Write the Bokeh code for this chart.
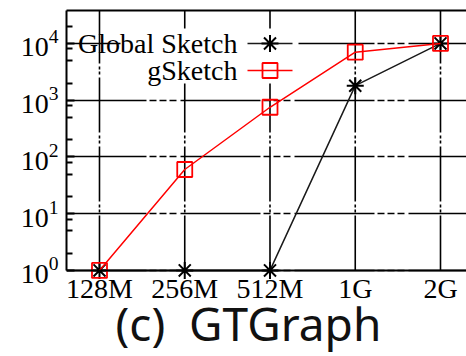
import math
from bokeh.plotting import figure
from bokeh.models import (Range1d, FixedTicker, LogTickFormatter, LinearAxis,
                          Label, BoxAnnotation, Span, Title)
from bokeh.embed import file_html
from bokeh.resources import INLINE

# sketch memory budget (x axis categories)
sizes = ["128M", "256M", "512M", "1G", "2G"]
# measured values per memory budget, log scale
global_sketch = [1, 1, 1, 1800, 10000]
gsketch = [1, 60, 750, 7000, 10000]

# y axis decades and in-between minor ticks
y_major = [1, 10, 100, 1000, 10000]
y_minor = [2, 5, 8, 20, 50, 80, 200, 500, 800, 2000, 5000, 8000, 20000]

series_names = ["Global Sketch", "gSketch"]
caption = "(c)\u00a0\u00a0GTGraph"

xs = list(range(len(sizes)))

# plot frame geometry (canvas pixels) and data ranges
W, H = 466, 356
F_LEFT, F_TOP, F_RIGHT, F_BOTTOM = 66, 10, 466, 279
LOG_TOP, LOG_BOTTOM = 4.58, -0.16
X_START, X_END = -0.387, 4.305
Y_TOP, Y_BOTTOM = 10 ** LOG_TOP, 10 ** LOG_BOTTOM


def data_x(px):
    return X_START + (px - F_LEFT) / (F_RIGHT - F_LEFT) * (X_END - X_START)


def data_y(py):
    frac = (py - F_TOP) / (F_BOTTOM - F_TOP)
    return 10 ** (LOG_TOP - frac * (LOG_TOP - LOG_BOTTOM))


SERIF = "Liberation Serif"
RED = "#ff0000"
DARK = "#1a1a1a"

p = figure(width=W, height=H, output_backend="svg", toolbar_location=None,
           y_axis_type="log", x_axis_location=None,
           x_range=Range1d(X_START, X_END), y_range=Range1d(Y_BOTTOM, Y_TOP),
           min_border_left=F_LEFT, min_border_right=0, min_border_top=F_TOP,
           min_border_bottom=H - F_BOTTOM)
p.outline_line_color = None
p.background_fill_color = "white"
p.border_fill_color = "white"

# left axis: decades with superscript exponents, minor ticks pointing inward
ticker = FixedTicker(ticks=y_major, minor_ticks=y_minor)
yax = p.yaxis[0]
yax.ticker = ticker
yax.formatter = LogTickFormatter(min_exponent=0)
yax.bounds = (1, Y_TOP)
yax.axis_line_width = 2
yax.axis_line_color = "black"
yax.major_tick_in = 8
yax.major_tick_out = 0
yax.minor_tick_in = 6
yax.minor_tick_out = 0
yax.major_tick_line_width = 2
yax.minor_tick_line_width = 2
yax.major_label_standoff = 8
yax.major_label_text_font = SERIF
yax.major_label_text_font_size = "28px"
yax.major_label_text_color = "black"

# bottom axis: labels only, baseline drawn at y = 1 below
xax = LinearAxis(ticker=FixedTicker(ticks=xs),
                 major_label_overrides={i: s for i, s in enumerate(sizes)})
xax.axis_line_color = None
xax.major_tick_in = 0
xax.major_tick_out = 0
xax.minor_tick_in = 0
xax.minor_tick_out = 0
xax.major_label_standoff = -7
xax.major_label_text_font = SERIF
xax.major_label_text_font_size = "28px"
xax.major_label_text_color = "black"
p.add_layout(xax, "below")

p.add_layout(Title(text=caption, align="left", offset=49, standoff=-29,
                   vertical_align="top", text_font="Noto Sans",
                   text_font_size="46px", text_font_style="normal",
                   text_color="#111111"), "below")

# top border line
top = LinearAxis(ticker=FixedTicker(ticks=[]), axis_line_width=2,
                 axis_line_color="black", major_tick_in=0, major_tick_out=0,
                 minor_tick_in=0, minor_tick_out=0,
                 major_label_text_font_size="0px")
p.add_layout(top, "above")

# grid
p.xgrid.visible = False
yg = p.ygrid[0]
yg.ticker = ticker
yg.grid_line_color = "black"
yg.grid_line_width = 1.6
yg.grid_line_dash = "80 3 7 3 7 3 7 4"

p.segment(x0=xs, y0=[1] * len(xs), x1=xs, y1=[Y_TOP] * len(xs),
          line_color="black", line_width=1.6, line_dash="55 3 3 2 3 3",
          level="underlay")

# baseline at y = 1
p.add_layout(Span(location=1, dimension="width", line_color="black",
                  line_width=2))

# opaque key area
p.add_layout(BoxAnnotation(left=120, right=298, top=28, bottom=83,
                           left_units="canvas", right_units="canvas",
                           top_units="canvas", bottom_units="canvas",
                           fill_color="white", fill_alpha=1, line_color=None))

# series
p.line(xs, global_sketch, line_color=DARK, line_width=1.5)
p.scatter(xs, global_sketch, marker="asterisk", size=17,
          line_color="black", line_width=2)
p.line(xs, gsketch, line_color=RED, line_width=1.5)
p.scatter(xs, gsketch, marker="square", size=15, fill_color=None,
          line_color=RED, line_width=1.8)

# key: name, then a sample line with its marker
key_rows = [43, 70]
key_x0, key_x1 = data_x(247), data_x(292)
key_xm = data_x(269.5)
key_styles = [(DARK, "asterisk", "black", 17), (RED, "square", RED, 15)]
for name, ry, (lc, mk, mc, ms) in zip(series_names, key_rows, key_styles):
    yv = data_y(ry)
    p.line([key_x0, key_x1], [yv, yv], line_color=lc, line_width=1.5,
           level="overlay")
    p.scatter([key_xm], [yv], marker=mk, size=ms, fill_color=None,
              line_color=mc, line_width=2 if mk == "asterisk" else 1.8,
              level="overlay")
    p.add_layout(Label(x=237, y=ry, x_units="canvas", y_units="canvas",
                       text=name, text_align="right", text_baseline="middle",
                       text_font=SERIF, text_font_size="28px",
                       text_color="black"))

open("out.html", "w").write(file_html(p, INLINE))
